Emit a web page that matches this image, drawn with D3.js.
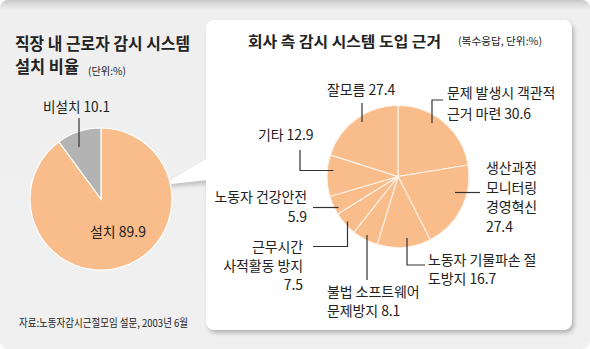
<!DOCTYPE html>
<html>
<head>
<meta charset="utf-8">
<script src="https://cdn.jsdelivr.net/npm/d3@7"></script>
<style>
  html, body { margin: 0; padding: 0; background: #ffffff; }
  svg { display: block; }
  text { font-family: "Noto Sans CJK KR", "Noto Sans", sans-serif; fill: #222; }
</style>
</head>
<body>
<svg id="chart" width="590" height="349"></svg>
<script>
// 직장 내 근로자 감시 시스템 설치 비율 (단위:%)
const installCategories = ["설치", "비설치"];
const installValues = [89.9, 10.1];

// 회사 측 감시 시스템 도입 근거 (복수응답, 단위:%)
const reasonCategories = [
  "문제 발생시 객관적 근거 마련",
  "생산과정 모니터링 경영혁신",
  "노동자 기물파손 절도방지",
  "불법 소프트웨어 문제방지",
  "근무시간 사적활동 방지",
  "노동자 건강안전",
  "기타",
  "잘모름"
];
const reasonValues = [30.6, 27.4, 16.7, 8.1, 7.5, 5.9, 12.9, 27.4];

// Label line breaks (value is appended from the arrays above)
const reasonLabelLines = [
  ["문제 발생시 객관적", "근거 마련 {v}"],
  ["생산과정", "모니터링", "경영혁신", "{v}"],
  ["노동자 기물파손 절", "도방지 {v}"],
  ["불법 소프트웨어", "문제방지 {v}"],
  ["근무시간", "사적활동 방지", "{v}"],
  ["노동자 건강안전", "{v}"],
  ["기타 {v}"],
  ["잘모름 {v}"]
];

const svg = d3.select("#chart");
const defs = svg.append("defs");

// background card with darker top edge
const bg = defs.append("linearGradient").attr("id", "bgGrad")
  .attr("x1", 0).attr("y1", 0).attr("x2", 0).attr("y2", 1);
bg.append("stop").attr("offset", "0%").attr("stop-color", "#c8c8c8");
bg.append("stop").attr("offset", "1.2%").attr("stop-color", "#dcdcdc");
bg.append("stop").attr("offset", "2.8%").attr("stop-color", "#efefef");
bg.append("stop").attr("offset", "100%").attr("stop-color", "#f0f0f0");

const blur = defs.append("filter").attr("id", "soft")
  .attr("x", "-10%").attr("y", "-10%").attr("width", "120%").attr("height", "120%");
blur.append("feGaussianBlur").attr("stdDeviation", 2);

svg.append("rect").attr("x", 0).attr("y", 0).attr("width", 590).attr("height", 349)
  .attr("rx", 8).attr("fill", "url(#bgGrad)");

// left chart title
svg.append("text").attr("x", 15).attr("y", 50)
  .attr("font-size", 16.5).attr("font-weight", 700).attr("fill", "#111")
  .attr("textLength", 175).attr("lengthAdjust", "spacingAndGlyphs")
  .text("직장 내 근로자 감시 시스템");
svg.append("text").attr("x", 15).attr("y", 73)
  .attr("font-size", 16.5).attr("font-weight", 700).attr("fill", "#111")
  .attr("textLength", 64).attr("lengthAdjust", "spacingAndGlyphs")
  .text("설치 비율");
svg.append("text").attr("x", 88).attr("y", 75)
  .attr("font-size", 10.5).attr("fill", "#444")
  .attr("textLength", 38).attr("lengthAdjust", "spacingAndGlyphs")
  .text("(단위:%)");

// source note
svg.append("text").attr("x", 19).attr("y", 327)
  .attr("font-size", 11).attr("fill", "#333")
  .attr("textLength", 169).attr("lengthAdjust", "spacingAndGlyphs")
  .text("자료:노동자감시근절모임 설문, 2003년 6월");

// right panel: shadow, callout pointer and white card
const panel = { x: 206, y: 20, w: 366, h: 310 };
svg.append("rect").attr("x", panel.x + 2).attr("y", panel.y + 3)
  .attr("width", panel.w).attr("height", panel.h).attr("rx", 8)
  .attr("fill", "#9a9a9a").attr("opacity", 0.7).attr("filter", "url(#soft)");
svg.append("path").attr("d", "M162,187 L208,163 L208,184 Z")
  .attr("fill", "#a0a0a0").attr("opacity", 0.6).attr("filter", "url(#soft)");
svg.append("rect").attr("x", panel.x).attr("y", panel.y)
  .attr("width", panel.w).attr("height", panel.h).attr("rx", 8)
  .attr("fill", "#ffffff");
svg.append("path").attr("d", "M162,185 L208,158 L208,180 Z").attr("fill", "#ffffff");

svg.append("text").attr("x", 248).attr("y", 47)
  .attr("font-size", 15).attr("font-weight", 700).attr("fill", "#111")
  .attr("textLength", 193).attr("lengthAdjust", "spacingAndGlyphs")
  .text("회사 측 감시 시스템 도입 근거");
svg.append("text").attr("x", 458).attr("y", 45)
  .attr("font-size", 10.5).attr("fill", "#555")
  .attr("textLength", 84).attr("lengthAdjust", "spacingAndGlyphs")
  .text("(복수응답, 단위:%)");

const pie = d3.pie().sort(null).value(d => d);

// left pie
const leftCenter = [101, 199], leftR = 71;
const leftColor = d3.scaleOrdinal().domain(installCategories).range(["#f9bc8b", "#b3b3b3"]);
const leftArc = d3.arc().innerRadius(0).outerRadius(leftR);
const gL = svg.append("g").attr("transform", `translate(${leftCenter})`);
gL.selectAll("path").data(pie(installValues)).join("path")
  .attr("d", leftArc)
  .attr("fill", (d, i) => leftColor(installCategories[i]))
  .attr("stroke", "#ffffff").attr("stroke-width", 1.2);

svg.append("line").attr("x1", 79).attr("y1", 118).attr("x2", 79).attr("y2", 147)
  .attr("stroke", "#333").attr("stroke-width", 1.2);
svg.append("text").attr("x", 43).attr("y", 112).attr("font-size", 14)
  .attr("textLength", 67).attr("lengthAdjust", "spacingAndGlyphs")
  .text(`${installCategories[1]} ${installValues[1]}`);
svg.append("text").attr("x", 90).attr("y", 237).attr("font-size", 14)
  .attr("textLength", 56).attr("lengthAdjust", "spacingAndGlyphs")
  .text(`${installCategories[0]} ${installValues[0]}`);

// right pie
const rightCenter = [398, 176.5], rightR = 71;
const rightArc = d3.arc().innerRadius(0).outerRadius(rightR);
const gR = svg.append("g").attr("transform", `translate(${rightCenter})`);
gR.selectAll("path").data(pie(reasonValues)).join("path")
  .attr("d", rightArc)
  .attr("fill", "#f9bc8b")
  .attr("stroke", "#fff3e8").attr("stroke-width", 1.1);

// label layout: anchor, first baseline, line height, leader polyline
const labelLayout = [
  { x: 447, y: 98, lh: 21, anchor: "start", lead: [[443, 100], [432, 100], [432, 123]] },
  { x: 486, y: 173, lh: 19.6, anchor: "start", lead: [[480, 192.5], [455, 192.5]] },
  { x: 428, y: 265, lh: 19, anchor: "start", lead: [[425, 265], [407, 265], [407, 238]] },
  { x: 327, y: 297, lh: 19, anchor: "start", lead: [[367, 280], [367, 235]] },
  { x: 303, y: 252, lh: 19, anchor: "end", lead: [[313, 246.5], [347.5, 246.5], [347.5, 221.5]] },
  { x: 307, y: 202, lh: 20, anchor: "end", lead: [[313, 207.5], [338.5, 207.5]] },
  { x: 258, y: 140, lh: 19, anchor: "start", lead: [[300, 150], [300, 170.5], [333.5, 170.5]] },
  { x: 327, y: 95, lh: 19, anchor: "start", lead: [[362, 103], [362, 122]] }
];

const line = d3.line();
const labels = svg.append("g");
reasonCategories.forEach((cat, i) => {
  const L = labelLayout[i];
  labels.append("path").attr("d", line(L.lead))
    .attr("fill", "none").attr("stroke", "#333").attr("stroke-width", 1.2);
  const t = labels.append("text").attr("font-size", 14).attr("text-anchor", L.anchor)
    .attr("letter-spacing", -0.1);
  reasonLabelLines[i].forEach((ln, j) => {
    t.append("tspan").attr("x", L.x).attr("y", L.y + j * L.lh)
      .text(ln.replace("{v}", reasonValues[i]));
  });
});
</script>
</body>
</html>
